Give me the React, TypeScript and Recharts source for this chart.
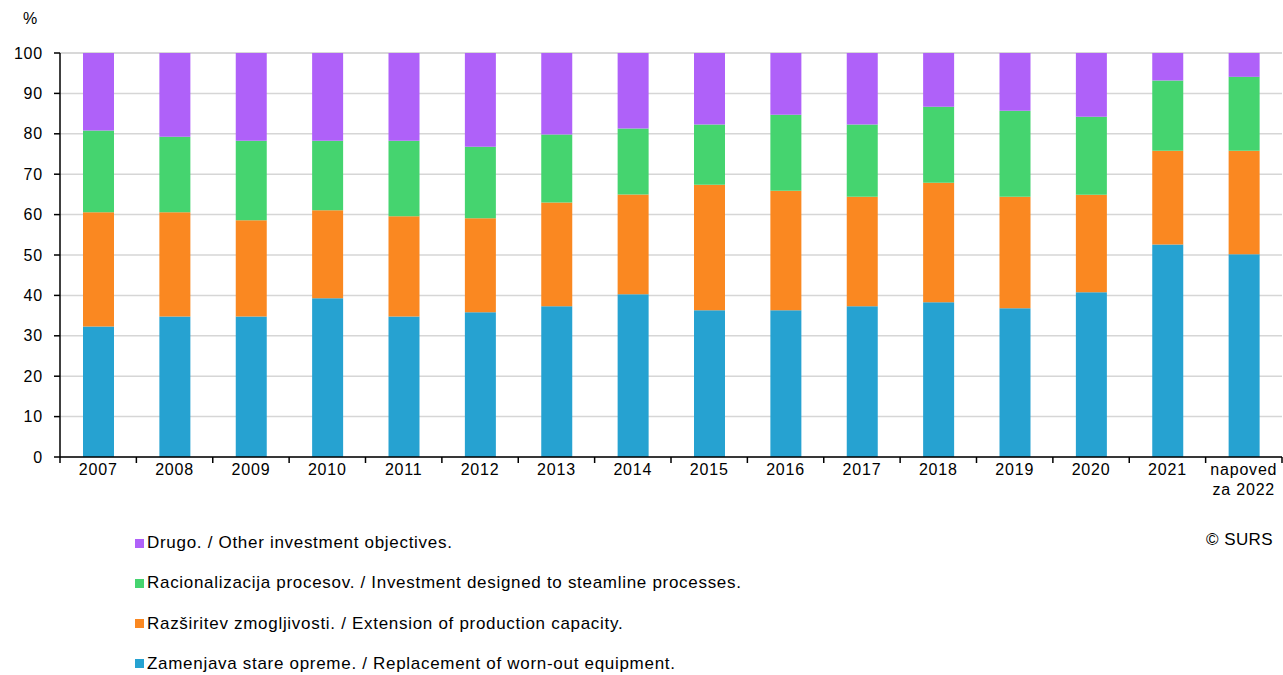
import React from 'react';
import { BarChart, Bar, XAxis, YAxis, CartesianGrid } from 'recharts';

const categories = ['2007', '2008', '2009', '2010', '2011', '2012', '2013', '2014', '2015', '2016', '2017', '2018', '2019', '2020', '2021', 'napoved\nza 2022'];
const replacement = [32.3, 34.8, 34.8, 39.3, 34.8, 35.8, 37.3, 40.3, 36.3, 36.3, 37.3, 38.3, 36.8, 40.8, 52.6, 50.2];
const extension = [28.3, 25.8, 23.8, 21.8, 24.8, 23.3, 25.7, 24.7, 31.1, 29.6, 27.1, 29.6, 27.6, 24.1, 23.2, 25.6];
const rationalisation = [20.2, 18.7, 19.7, 17.2, 18.7, 17.7, 16.8, 16.3, 14.9, 18.8, 17.9, 18.8, 21.3, 19.3, 17.4, 18.3];
const other = [19.2, 20.7, 21.7, 21.7, 21.7, 23.2, 20.2, 18.7, 17.7, 15.3, 17.7, 13.3, 14.3, 15.8, 6.8, 5.9];
const yTicks = [0, 10, 20, 30, 40, 50, 60, 70, 80, 90, 100];

const seriesKeys = ['replacement', 'extension', 'rationalisation', 'other'];
const seriesNames = [
  'Zamenjava stare opreme. / Replacement of worn-out equipment.',
  'Razširitev zmogljivosti. / Extension of production capacity.',
  'Racionalizacija procesov. / Investment designed to steamline processes.',
  'Drugo. / Other investment objectives.',
];
const seriesColors = ['#26A2D1', '#FA8821', '#45D46F', '#AF61F9'];

const data = categories.map((c, i) => ({
  cat: c,
  replacement: replacement[i],
  extension: extension[i],
  rationalisation: rationalisation[i],
  other: other[i],
}));

const W = 1283;
const H = 675;
const margin = { top: 53, right: 1, bottom: 188, left: 0 };
const Y_AXIS_W = 60;
const BAND = (W - margin.left - margin.right - Y_AXIS_W) / categories.length;
const FONT = '"Liberation Sans", Arial, sans-serif';

const XTick = (props: any) => {
  const { x, y, payload, index } = props;
  const lines = String(payload.value).split('\n');
  const isLast = index === categories.length - 1;
  return (
    <g>
      <line x1={x - BAND / 2} x2={x - BAND / 2} y1={y} y2={y + 6} stroke="#000" strokeWidth={1.5} />
      {isLast && <line x1={x + BAND / 2} x2={x + BAND / 2} y1={y} y2={y + 6} stroke="#000" strokeWidth={1.5} />}
      <text x={x} y={y + 18} textAnchor="middle" fill="#000" fontSize={16} fontFamily={FONT} letterSpacing={0.8}>
        {lines.map((l, i) => (
          <tspan key={i} x={x} dy={i === 0 ? 0 : 20}>{l}</tspan>
        ))}
      </text>
    </g>
  );
};

const legendOrder = [3, 2, 1, 0];

export default function App() {
  return (
    <div style={{ position: 'absolute', left: 0, top: 0, width: W, height: H, background: '#fff', fontFamily: FONT }}>
      <BarChart width={W} height={H} data={data} margin={margin} barCategoryGap={0}>
        <CartesianGrid vertical={false} stroke="#d6d6d6" strokeWidth={1.5} />
        <XAxis
          dataKey="cat"
          interval={0}
          tickLine={false}
          tickSize={0}
          tickMargin={0}
          height={30}
          axisLine={{ stroke: '#000', strokeWidth: 1.5 }}
          tick={<XTick />}
        />
        <YAxis
          width={Y_AXIS_W}
          domain={[0, 100]}
          ticks={yTicks}
          interval={0}
          tickSize={6}
          tickMargin={11}
          axisLine={{ stroke: '#000', strokeWidth: 1.5 }}
          tickLine={{ stroke: '#000', strokeWidth: 1.5 }}
          tick={{ fill: '#000', fontSize: 16, fontFamily: FONT, letterSpacing: 0.8 }}
        />
        {seriesKeys.map((k, i) => (
          <Bar key={k} dataKey={k} stackId="a" fill={seriesColors[i]} barSize={31} isAnimationActive={false} />
        ))}
      </BarChart>
      <div style={{ position: 'absolute', left: 23, top: 10, fontSize: 16, color: '#000' }}>%</div>
      <div style={{ position: 'absolute', right: 10, top: 530, fontSize: 17, color: '#000', letterSpacing: 0.4 }}>© SURS</div>
      {legendOrder.map((si, j) => (
        <div
          key={si}
          style={{ position: 'absolute', left: 135, top: 533 + j * 40.3, height: 20, display: 'flex', alignItems: 'center', fontSize: 17, letterSpacing: 0.7, color: '#000', whiteSpace: 'nowrap' }}
        >
          <span style={{ display: 'inline-block', width: 9, height: 9, background: seriesColors[si], marginRight: 3 }} />
          <span>{seriesNames[si]}</span>
        </div>
      ))}
    </div>
  );
}
